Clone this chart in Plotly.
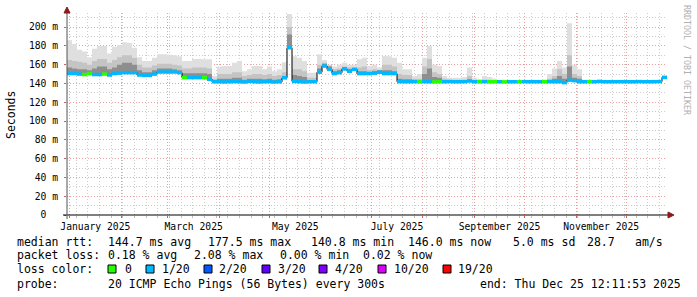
import plotly.graph_objects as go
import pandas as pd

# ---------------- data ----------------
START = "2024-12-30 12:11:53"
END = "2025-12-25 12:11:53"
BIN_DAYS = 3

median_ms = [
    150.5, 150.5, 150.0, 149.5, 150.5, 149.5, 149.5, 150.0, 149.0, 150.5,
    151.0, 151.5, 151.5, 151.5, 149.0, 148.6, 148.6, 150.0, 152.2, 152.2,
    152.2, 152.2, 151.5, 146.2, 146.2, 146.2, 146.2, 146.2, 144.5, 141.8,
    141.8, 141.6, 141.8, 142.0, 141.8, 141.6, 142.3, 141.8, 141.6, 141.8,
    141.9, 141.6, 141.8, 146.0, 178.0, 142.2, 141.8, 141.6, 141.8, 141.9,
    152.0, 158.5, 155.0, 150.5, 151.5, 155.5, 153.0, 155.0, 150.5, 150.5,
    150.5, 151.0, 152.0, 150.5, 150.5, 150.5, 141.9, 141.8, 141.8, 141.9,
    141.7, 141.8, 141.8, 141.6, 141.8, 141.8, 142.0, 141.8, 141.8, 141.9,
    142.6, 141.8, 141.8, 141.9, 141.8, 141.8, 141.8, 141.7, 141.8, 141.8,
    141.8, 141.9, 141.8, 141.8, 141.8, 141.8, 141.9, 141.8, 141.8, 140.9,
    143.5, 143.0, 141.8, 141.8, 141.8, 141.8, 142.2, 141.8, 141.8, 141.8,
    141.9, 141.8, 141.8, 141.8, 142.0, 141.8, 141.8, 141.9, 142.0, 146.5,
]

loss_of_20 = [
    1, 1, 1, 0, 0, 1, 1, 0, 1, 1,
    1, 1, 1, 1, 1, 1, 1, 1, 1, 1,
    1, 1, 1, 0, 1, 1, 1, 0, 1, 1,
    1, 1, 1, 1, 1, 1, 1, 1, 1, 1,
    1, 1, 1, 1, 1, 1, 1, 1, 1, 1,
    1, 1, 1, 1, 1, 1, 1, 1, 1, 1,
    1, 1, 1, 1, 1, 1, 1, 1, 1, 1,
    0, 1, 1, 0, 0, 1, 1, 1, 1, 1,
    1, 1, 0, 1, 0, 0, 1, 0, 1, 1,
    0, 1, 1, 1, 1, 0, 1, 1, 1, 1,
    1, 1, 1, 1, 0, 1, 1, 1, 1, 1,
    1, 1, 1, 1, 1, 1, 1, 1, 1, 1,
]

smoke_max = [
    186, 182, 176, 174, 168, 177, 180, 180, 172, 179,
    181, 184, 183, 178, 168, 164, 164, 167.5, 171, 171,
    170.5, 170, 169, 164, 164, 166, 166, 165.8, 165.8, 148,
    158, 158.6, 158.6, 162, 164, 153, 155, 158.6, 158.6, 155,
    158, 153, 155, 162.5, 214, 169, 167.5, 164, 151.5, 151.5,
    171, 165, 160, 158, 160, 162, 160, 160, 165.8, 167.5,
    158.6, 160, 157, 169.3, 169, 167.5, 162, 155, 155, 148,
    150, 167.5, 180, 160, 158.6, 148, 146, 146, 146, 147,
    157, 146, 145, 148, 147, 145.4, 143.6, 143.6, 143.6, 143.6,
    142.5, 142.5, 142.5, 144, 144, 144, 150, 156, 164, 157,
    204, 160, 155, 144, 144, 142.5, 142.5, 142.5, 142.5, 142.5,
    142.5, 142.5, 142.5, 142.5, 142.5, 142.5, 142.5, 142.5, 143, 147,
]

smoke_mid = [
    165, 164, 163, 162, 160, 164, 166, 166, 162, 165,
    168, 170, 170, 167, 160, 157, 157, 159, 161, 161,
    161, 160, 159, 156, 156, 157, 157, 157, 156, 145,
    150, 150, 150, 152, 152, 148, 149, 150, 150, 149,
    150, 148, 149, 152, 200, 155, 155, 153, 146, 146,
    160, 162, 159, 155, 156, 158, 157, 157, 157, 158,
    154, 155, 153, 160, 160, 158, 150, 149, 149, 145,
    145, 158, 166, 152, 150, 145, 144, 144, 144, 144,
    148, 144, 143.5, 144, 144, 143.5, 143, 143, 143, 143,
    142.5, 142.5, 142.5, 143, 143, 143, 145, 148, 155, 150,
    170, 150, 148, 143, 143, 142.3, 142.3, 142.3, 142.3, 142.3,
    142.3, 142.3, 142.3, 142.3, 142.3, 142.3, 142.3, 142.3, 142.3, 146.8,
]

smoke_in = [
    157, 156, 155, 155, 154, 156, 158, 158, 155, 157,
    160, 162, 162, 160, 154, 152, 152, 154, 156, 156,
    156, 155, 154, 151, 151, 151, 151, 151, 150, 143.5,
    145, 145, 145, 146, 146, 144, 145, 145, 145, 144.5,
    145, 144, 144.5, 148, 192, 149, 148, 147, 143.5, 143.5,
    156, 161, 158, 153, 154, 157, 155, 156, 153, 153,
    152, 153, 154, 154, 154, 153, 145, 144.5, 144.5, 143,
    143, 150, 156, 147, 146, 143, 142.8, 142.8, 142.8, 143,
    144, 142.8, 142.5, 142.8, 142.8, 142.5, 142.3, 142.3, 142.3, 142.3,
    142.2, 142.2, 142.2, 142.5, 142.5, 142.5, 143, 145, 148, 145,
    158, 146, 145, 142.5, 142.5, 142.1, 142.1, 142.1, 142.1, 142.1,
    142.1, 142.1, 142.1, 142.1, 142.1, 142.1, 142.1, 142.1, 142.1, 146.6,
]

month_grid = ["2025-01-01", "2025-02-01", "2025-03-01", "2025-04-01", "2025-05-01", "2025-06-01",
              "2025-07-01", "2025-08-01", "2025-09-01", "2025-10-01", "2025-11-01", "2025-12-01"]
month_label_pos = ["2025-01-16 12:00", "2025-03-16 12:00", "2025-05-16 12:00",
                   "2025-07-16 12:00", "2025-09-16", "2025-11-16"]
month_labels = ["January 2025", "March 2025", "May 2025", "July 2025", "September 2025", "November 2025"]

y_ticks = [0, 20, 40, 60, 80, 100, 120, 140, 160, 180, 200]
y_tick_labels = ["0\u00a0\u00a0", "20 m", "40 m", "60 m", "80 m", "100 m", "120 m", "140 m",
                 "160 m", "180 m", "200 m"]

loss_labels = ["0", "1/20", "2/20", "3/20", "4/20", "10/20", "19/20"]
loss_colors = ["#26ff00", "#00b8ff", "#0059ff", "#5e00ff", "#7e00ff", "#dd00ff", "#ff0000"]

rtt_line = ["median rtt:", "144.7 ms avg", "177.5 ms max", "140.8 ms min", "146.0 ms now",
            "5.0 ms sd", "28.7", "am/s"]
loss_line = ["packet loss:", "0.18 % avg", "2.08 % max", "0.00 % min", "0.02 % now"]
probe_line = ["probe:", "20 ICMP Echo Pings (56 Bytes) every 300s", "end: Thu Dec 25 12:11:53 2025"]

# ---------------- layout helpers ----------------
W, H = 697, 297
L, R, T, B = 67, 667, 13, 215
MONO = "DejaVu Sans Mono"


def px(x):
    return (x - L) / (R - L)


def py(y):
    return (B - y) / (B - T)


edges = pd.date_range(START, periods=len(median_ms) + 1, freq=f"{BIN_DAYS}D")
med_ext = median_ms + [median_ms[-1]]

fig = go.Figure()

# smoke bands
for top, col in [(smoke_max, "#dfdfdf"), (smoke_mid, "#c4c4c4"), (smoke_in, "#8e8e8e")]:
    fig.add_trace(go.Scatter(x=edges, y=med_ext, mode="lines", line=dict(width=0, shape="hv"),
                             hoverinfo="skip", showlegend=False))
    fig.add_trace(go.Scatter(x=edges, y=top + [top[-1]], mode="lines", line=dict(width=0, shape="hv"),
                             fill="tonexty", fillcolor=col, hoverinfo="skip", showlegend=False))

# black median step line
fig.add_trace(go.Scatter(x=edges, y=med_ext, mode="lines", line=dict(color="#000000", width=1, shape="hv"),
                         hoverinfo="skip", showlegend=False))

# coloured median segments (by loss)
loss_map = {0: loss_colors[0], 1: loss_colors[1]}
for lv, col in loss_map.items():
    xs, ys = [], []
    for i, m in enumerate(median_ms):
        if loss_of_20[i] == lv:
            xs += [edges[i], edges[i + 1], None]
            ys += [m, m, None]
    fig.add_trace(go.Scatter(x=xs, y=ys, mode="lines", line=dict(color=col, width=3.5),
                             hoverinfo="skip", showlegend=False))

# dummy trace for label axis
fig.add_trace(go.Scatter(x=month_label_pos, y=[None] * len(month_label_pos), xaxis="x2",
                         mode="markers", showlegend=False, hoverinfo="skip"))

MAJOR = "#eaa0a0"
MINOR = "#cdcdcd"
DASH = "1px,2px"

fig.update_layout(
    width=W, height=H,
    margin=dict(l=L, r=W - R, t=T, b=H - B, pad=0),
    paper_bgcolor="#ffffff", plot_bgcolor="#ffffff",
    showlegend=False,
    font=dict(family=MONO, size=10, color="#000000"),
    xaxis=dict(
        type="date", range=[START, END],
        tickmode="array", tickvals=month_grid, showticklabels=False,
        showgrid=True, gridcolor=MAJOR, griddash=DASH, gridwidth=1,
        ticks="outside", ticklen=2, tickcolor="#d06060",
        minor=dict(tick0="2024-12-29", dtick=7 * 86400000, showgrid=True, gridcolor=MINOR,
                   griddash=DASH, ticks="outside", ticklen=2, tickcolor="#bbbbbb"),
        zeroline=False, showline=False,
    ),
    xaxis2=dict(
        type="date", range=[START, END], overlaying="x", side="bottom", anchor="y",
        tickmode="array", tickvals=month_label_pos, ticktext=month_labels,
        showgrid=False, ticks="", zeroline=False, showline=False, ticklabelstandoff=4,
        tickfont=dict(family=MONO, size=9.7, color="#000000"),
    ),
    yaxis=dict(
        range=[0, 215], tickmode="array", tickvals=y_ticks, ticktext=y_tick_labels,
        showgrid=True, gridcolor=MAJOR, griddash=DASH,
        minor=dict(dtick=10, tick0=0, showgrid=True, gridcolor=MINOR, griddash=DASH),
        ticks="outside", ticklen=2, tickcolor="#d06060", ticklabelstandoff=4,
        tickfont=dict(family=MONO, size=9.7, color="#000000"),
        zeroline=False, showline=False,
    ),
)

shapes = []
# axis lines
shapes.append(dict(type="line", xref="paper", yref="paper", x0=px(63), x1=px(669), y0=py(215), y1=py(215),
                   line=dict(color="#000000", width=1), layer="above"))
shapes.append(dict(type="line", xref="paper", yref="paper", x0=px(67), x1=px(67), y0=py(219), y1=py(10),
                   line=dict(color="#555555", width=1), layer="above"))
# arrows
ARROW = "#8b1a1a"
shapes.append(dict(type="path", xref="paper", yref="paper",
                   path=f"M {px(64)} {py(13)} L {px(70)} {py(13)} L {px(67)} {py(7)} Z",
                   fillcolor=ARROW, line=dict(color=ARROW, width=1), layer="above"))
shapes.append(dict(type="path", xref="paper", yref="paper",
                   path=f"M {px(668)} {py(212)} L {px(668)} {py(218)} L {px(674)} {py(215)} Z",
                   fillcolor=ARROW, line=dict(color=ARROW, width=1), layer="above"))
# loss colour boxes
box_x = [108, 146, 204, 262, 319, 378, 443]
for bx, col in zip(box_x, loss_colors):
    shapes.append(dict(type="rect", xref="paper", yref="paper", x0=px(bx), x1=px(bx + 8),
                       y0=py(273), y1=py(265), fillcolor=col, line=dict(color="#000000", width=1)))
fig.update_layout(shapes=shapes)

ann = []


def text(s, x, y, size=11.5, color="#000000", angle=0, xanchor="left"):
    ann.append(dict(text=s, x=px(x), y=py(y), xref="paper", yref="paper", showarrow=False,
                    xanchor=xanchor, yanchor="middle", borderpad=0, textangle=angle,
                    font=dict(family=MONO, size=size, color=color)))


ROW = [241.7, 255.3, 269.0, 283.6]
for s, x in zip(rtt_line, [16, 107, 207, 310, 407, 512, 586, 634]):
    text(s, x, ROW[0])
for s, x in zip(loss_line, [16, 107, 193, 279, 362]):
    text(s, x, ROW[1])
text("loss color:", 16, ROW[2])
for s, x in zip(loss_labels, [124, 161, 218, 277, 334, 393, 457]):
    text(s, x, ROW[2])
for s, x in zip(probe_line, [16, 107, 479]):
    text(s, x, ROW[3])

text("Seconds", 11, 115, angle=-90, xanchor="center")
text("RRDTOOL / TOBI OETIKER", 687, 60, size=8.3, color="#b0b0b0", angle=90, xanchor="center")

fig.update_layout(annotations=ann)

fig.write_html("out.html")
